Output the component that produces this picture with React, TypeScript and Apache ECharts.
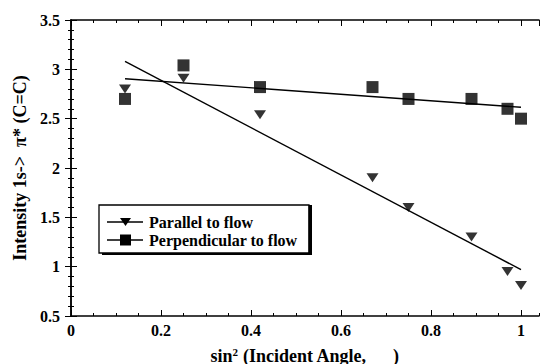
import React, { useEffect, useRef } from "react";
import * as echarts from "echarts";

const parallelX = [0.12, 0.25, 0.42, 0.67, 0.75, 0.89, 0.97, 1.0];
const parallelY = [2.8, 2.91, 2.54, 1.9, 1.6, 1.3, 0.95, 0.81];
const perpX = [0.12, 0.25, 0.42, 0.67, 0.75, 0.89, 0.97, 1.0];
const perpY = [2.7, 3.04, 2.82, 2.82, 2.7, 2.7, 2.6, 2.5];
const fitParallelX = [0.12, 1.0];
const fitParallelY = [3.08, 0.97];
const fitPerpX = [0.12, 1.0];
const fitPerpY = [2.905, 2.615];
const seriesNames = ["Parallel to flow", "Perpendicular to flow"];
const xTitle = "(Incident Angle,      )";
const yTitle = "Intensity 1s->  \u03c0* (C=C)";

const FONT = "Liberation Serif";

export default function App() {
  const ref = useRef<HTMLDivElement>(null);
  useEffect(() => {
    if (!ref.current) return;
    const chart = echarts.init(ref.current, undefined, { renderer: "svg" });
    const zip = (xs: number[], ys: number[]) => xs.map((x, i) => [x, ys[i]]);
    const labelStyle = {
      fontFamily: FONT,
      fontWeight: "bold" as const,
      fontSize: 16,
      color: "#000",
    };
    const baseX = {
      type: "value" as const,
      min: 0,
      max: 1.04,
      splitLine: { show: false },
    };
    const baseY = {
      type: "value" as const,
      min: 0.5,
      max: 3.5,
      interval: 0.5,
      splitLine: { show: false },
    };
    const lineStyleAxis = { color: "#000", width: 1.5 };
    chart.setOption({
      animation: false,
      backgroundColor: "#fff",
      grid: { left: 71, top: 20, right: 3, bottom: 48, containLabel: false, outerBoundsMode: "none" },
      xAxis: [
        {
          ...baseX,
          position: "bottom",
          interval: 0.2,
          axisLine: { show: true, lineStyle: lineStyleAxis },
          axisTick: { show: true, inside: true, length: 6, lineStyle: { color: "#000" } },
          axisLabel: {
            ...labelStyle,
            margin: 6,
            showMaxLabel: false,
            formatter: (v: number) => (v > 1.001 ? "" : String(Math.round(v * 10) / 10)),
          },
          name: "sin{sup|2} " + xTitle,
          nameLocation: "middle",
          nameGap: 30,
          nameTextStyle: {
            ...labelStyle,
            fontSize: 18,
            rich: {
              sup: { fontFamily: FONT, fontWeight: "bold", fontSize: 11, color: "#000", verticalAlign: "top", padding: [0, 0, 8, 0] },
            },
          },
        },
        {
          ...baseX,
          position: "bottom",
          interval: 0.05,
          axisLine: { show: false },
          axisTick: { show: true, inside: true, length: 3, lineStyle: { color: "#000" } },
          axisLabel: { show: false },
        },
        {
          ...baseX,
          position: "top",
          interval: 0.2,
          axisLine: { show: true, lineStyle: lineStyleAxis },
          axisTick: { show: true, inside: true, length: 6, lineStyle: { color: "#000" } },
          axisLabel: { show: false },
        },
        {
          ...baseX,
          position: "top",
          interval: 0.05,
          axisLine: { show: false },
          axisTick: { show: true, inside: true, length: 3, lineStyle: { color: "#000" } },
          axisLabel: { show: false },
        },
      ],
      yAxis: [
        {
          ...baseY,
          position: "left",
          axisLine: { show: true, lineStyle: lineStyleAxis },
          axisTick: { show: true, inside: true, length: 6, lineStyle: { color: "#000" } },
          minorTick: { show: true, splitNumber: 5, length: 3, lineStyle: { color: "#000" } },
          axisLabel: { ...labelStyle, margin: 11 },
          name: yTitle,
          nameLocation: "middle",
          nameGap: 42,
          nameTextStyle: { ...labelStyle, fontSize: 18 },
        },
        {
          ...baseY,
          position: "right",
          axisLine: { show: true, lineStyle: lineStyleAxis },
          axisTick: { show: true, inside: true, length: 6, lineStyle: { color: "#000" } },
          minorTick: { show: true, splitNumber: 5, length: 3, lineStyle: { color: "#000" } },
          axisLabel: { show: false },
        },
      ],
      series: [
        {
          name: seriesNames[0],
          type: "scatter",
          data: zip(parallelX, parallelY),
          symbol: "triangle",
          symbolRotate: 180,
          symbolSize: [12, 9],
          itemStyle: { color: "#000" },
        },
        {
          name: seriesNames[1],
          type: "scatter",
          data: zip(perpX, perpY),
          symbol: "rect",
          symbolSize: 12,
          itemStyle: { color: "#000" },
        },
        {
          type: "line",
          data: zip(fitParallelX, fitParallelY),
          showSymbol: false,
          lineStyle: { color: "#000", width: 1.4 },
        },
        {
          type: "line",
          data: zip(fitPerpX, fitPerpY),
          showSymbol: false,
          lineStyle: { color: "#000", width: 1.4 },
        },
      ],
      graphic: [
        { type: "rect", shape: { x: 102, y: 208, width: 210, height: 47 }, style: { fill: "#000" }, z: 10 },
        { type: "rect", shape: { x: 99, y: 205, width: 210, height: 48 }, style: { fill: "#fff", stroke: "#000", lineWidth: 1.3 }, z: 11 },
        { type: "line", shape: { x1: 107, y1: 222, x2: 143, y2: 222 }, style: { stroke: "#000", lineWidth: 1.5 }, z: 12 },
        { type: "polygon", shape: { points: [[120, 218], [131, 218], [125.5, 226]] }, style: { fill: "#000" }, z: 12 },
        { type: "text", x: 149, y: 222, style: { text: seriesNames[0], fontFamily: FONT, fontWeight: "bold", fontSize: 16, fill: "#000", verticalAlign: "middle" }, z: 12 },
        { type: "line", shape: { x1: 107, y1: 240, x2: 143, y2: 240 }, style: { stroke: "#000", lineWidth: 1.5 }, z: 12 },
        { type: "rect", shape: { x: 120, y: 234.5, width: 11, height: 11 }, style: { fill: "#000" }, z: 12 },
        { type: "text", x: 149, y: 240, style: { text: seriesNames[1], fontFamily: FONT, fontWeight: "bold", fontSize: 16, fill: "#000", verticalAlign: "middle" }, z: 12 },
        { type: "rect", shape: { x: 308.5, y: 205, width: 3.5, height: 50 }, style: { fill: "#000" }, z: 13 },
        { type: "rect", shape: { x: 312, y: 200, width: 30, height: 60 }, style: { fill: "#fff" }, z: 13 },
      ],
    });
    return () => chart.dispose();
  }, []);
  return <div ref={ref} style={{ width: 542, height: 364, position: "absolute", left: 0, top: 0 }} />;
}
